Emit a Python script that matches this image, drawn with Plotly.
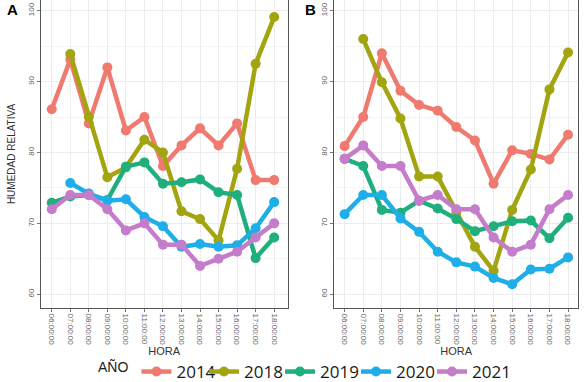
import plotly.graph_objects as go

horas = ["06:00:00", "07:00:00", "08:00:00", "09:00:00", "10:00:00", "11:00:00", "12:00:00",
         "13:00:00", "14:00:00", "15:00:00", "16:00:00", "17:00:00", "18:00:00"]
anios = ["2014", "2018", "2019", "2020", "2021"]
colores = ["#F07A6F", "#A3A510", "#1FAF7C", "#1FAEE8", "#C47CCB"]

# Panel A
hum_A_2014 = [86.1, 93.1, 84.1, 92.0, 83.1, 85.0, 78.1, 81.0, 83.4, 81.0, 84.1, 76.1, 76.1]
hum_A_2018 = [None, 93.9, 85.0, 76.5, 77.9, 81.8, 80.0, 71.7, 70.6, 67.6, 77.7, 92.5, 99.1]
hum_A_2019 = [72.9, 73.8, 74.0, 73.3, 78.0, 78.6, 75.6, 75.8, 76.2, 74.4, 74.0, 65.1, 68.0]
hum_A_2020 = [None, 75.7, 74.2, 73.2, 73.4, 70.9, 69.6, 66.7, 67.1, 66.7, 66.9, 69.3, 73.0]
hum_A_2021 = [72.0, 74.0, 74.0, 72.0, 69.0, 70.0, 67.0, 67.0, 64.0, 65.0, 66.0, 68.0, 70.0]

# Panel B
hum_B_2014 = [80.9, 85.0, 94.0, 88.7, 86.7, 85.9, 83.6, 81.7, 75.6, 80.3, 79.8, 79.0, 82.5]
hum_B_2018 = [None, 96.0, 89.9, 84.8, 76.6, 76.6, 71.5, 66.7, 63.3, 71.9, 77.6, 88.9, 94.1]
hum_B_2019 = [79.1, 78.1, 71.9, 71.5, 73.2, 72.1, 70.6, 68.9, 69.6, 70.3, 70.4, 67.9, 70.8]
hum_B_2020 = [71.3, 74.0, 74.0, 70.7, 68.8, 66.0, 64.5, 63.9, 62.3, 61.4, 63.5, 63.6, 65.2]
hum_B_2021 = [79.1, 81.0, 78.1, 78.1, 73.2, 74.0, 72.0, 72.0, 68.0, 66.0, 67.0, 72.0, 74.0]

series_A = [hum_A_2014, hum_A_2018, hum_A_2019, hum_A_2020, hum_A_2021]
series_B = [hum_B_2014, hum_B_2018, hum_B_2019, hum_B_2020, hum_B_2021]

fig = go.Figure()
legend_ids = ["legend", "legend2", "legend3", "legend4", "legend5"]

for i, anio in enumerate(anios):
    fig.add_trace(go.Scatter(
        x=horas, y=series_A[i], name=anio, mode="lines+markers",
        line=dict(color=colores[i], width=4.5), marker=dict(color=colores[i], size=10),
        connectgaps=False, xaxis="x", yaxis="y", legend=legend_ids[i], showlegend=True))
for i, anio in enumerate(anios):
    fig.add_trace(go.Scatter(
        x=horas, y=series_B[i], name=anio, mode="lines+markers",
        line=dict(color=colores[i], width=4.5), marker=dict(color=colores[i], size=10),
        connectgaps=False, xaxis="x2", yaxis="y2", showlegend=False))

axis_font = dict(family="Liberation Sans, Arial, sans-serif", size=8, color="#666666")
title_font = dict(family="Liberation Sans, Arial, sans-serif", size=11, color="#333333")

def xax(domain, rng, anchor):
    return dict(domain=domain, type="category", categoryorder="array", categoryarray=horas,
                range=rng, anchor=anchor, automargin=False, showgrid=True, gridcolor="#ececec", gridwidth=1,
                tickangle=90, tickfont=axis_font, ticks="outside", ticklen=3, tickcolor="#777",
                showline=True, linecolor="#555", linewidth=1, zeroline=False,
                title=dict(text="HORA", font=title_font, standoff=0))

def yax(anchor, show_title):
    return dict(domain=[0, 1], range=[58.06, 101.51], anchor=anchor, automargin=False,
                tickvals=[60, 70, 80, 90, 100], tickangle=-90, tickfont=axis_font,
                ticks="outside", ticklen=3, tickcolor="#777",
                showgrid=True, gridcolor="#ececec", gridwidth=1,
                minor=dict(dtick=5, tick0=65, showgrid=True, gridcolor="#f5f5f5", ticks=""),
                showline=True, mirror=True, linecolor="#555", linewidth=1, zeroline=False,
                title=dict(text="HUMEDAD RELATIVA" if show_title else "",
                           font=dict(family="Liberation Sans, Arial, sans-serif", size=10, color="#333"),
                           standoff=9))

xa = xax([41 / 586, 287.5 / 586], [-0.58, 12.72], "y")
xb = xax([334 / 586, 578.3 / 586], [-0.57, 12.55], "y2")
ya = yax("x", True)
yb = yax("x2", False)

leg_font = dict(family="Open Sans, sans-serif", size=17, color="#1a1a1a")
leg_y = (308 - 372) / 308
marker_px = [158, 234, 310, 386, 462]
legends = {}
for i, lid in enumerate(legend_ids):
    d = dict(orientation="h", x=(marker_px[i] - 30) / 586, xanchor="left", y=leg_y, yanchor="middle",
             font=leg_font, bgcolor="rgba(0,0,0,0)", borderwidth=0, itemwidth=30)
    if i == 0:
        d["title"] = dict(text="AÑO", side="left",
                          font=dict(family="Liberation Sans, Arial, sans-serif", size=14, color="#1a1a1a"))
        d["x"] = 96 / 586
    legends[lid] = d

fig.update_layout(
    width=586, height=382, margin=dict(l=0, r=0, t=0, b=74, autoexpand=False),
    paper_bgcolor="white", plot_bgcolor="white",
    xaxis=xa, yaxis=ya, xaxis2=xb, yaxis2=yb,
    annotations=[
        dict(text="<b>A</b>", x=12 / 586, y=1.0, xref="paper", yref="paper", xanchor="center", yanchor="top",
             showarrow=False, yshift=1, font=dict(family="Liberation Sans, Arial", size=15, color="black")),
        dict(text="<b>B</b>", x=310 / 586, y=1.0, xref="paper", yref="paper", xanchor="center", yanchor="top",
             showarrow=False, yshift=1, font=dict(family="Liberation Sans, Arial", size=15, color="black")),
    ],
    **legends,
)

fig.write_html("out.html", config={"displayModeBar": False},
               post_script="document.body.style.margin='0';document.body.style.overflow='hidden';")
